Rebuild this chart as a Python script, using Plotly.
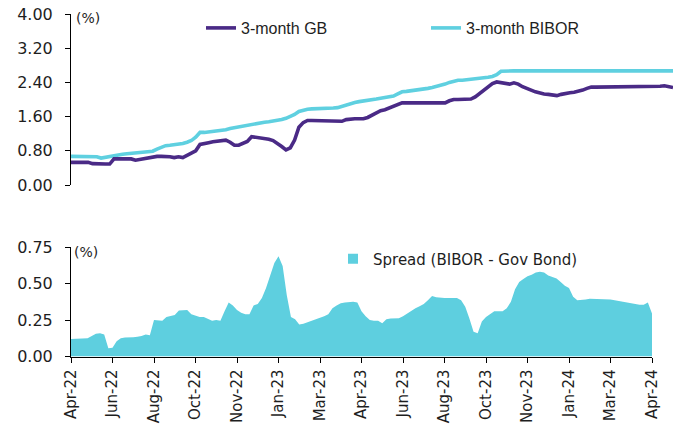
import plotly.graph_objects as go

# ---------------- data ----------------
tick_labels = ["Apr-22", "Jun-22", "Aug-22", "Oct-22", "Nov-22", "Jan-23", "Mar-23",
               "Apr-23", "Jun-23", "Aug-23", "Oct-23", "Nov-23", "Jan-24", "Mar-24", "Apr-24"]
points_per_tick = 10

gb_3m = [
    0.53, 0.53, 0.53, 0.53, 0.53, 0.50, 0.49, 0.49, 0.49, 0.49,
    0.61, 0.61, 0.61, 0.61, 0.61, 0.58, 0.60, 0.62, 0.63, 0.66,
    0.67, 0.67, 0.67, 0.66, 0.64, 0.66, 0.64, 0.69, 0.74, 0.80,
    0.95, 0.98, 0.99, 1.01, 1.03, 1.04, 1.05, 1.00, 0.93, 0.93,
    0.98, 1.02, 1.13, 1.12, 1.11, 1.09, 1.07, 1.04, 0.98, 0.90,
    0.82, 0.87, 1.05, 1.35, 1.46, 1.51, 1.51, 1.51, 1.51, 1.51,
    1.51, 1.51, 1.51, 1.49, 1.53, 1.55, 1.55, 1.55, 1.55, 1.58,
    1.64, 1.69, 1.74, 1.76, 1.80, 1.84, 1.90, 1.92, 1.92, 1.92,
    1.92, 1.92, 1.92, 1.92, 1.92, 1.92, 1.92, 1.92, 1.97, 2.00,
    2.00, 2.00, 2.00, 2.01, 2.06, 2.14, 2.22, 2.31, 2.37, 2.41,
    2.40, 2.37, 2.36, 2.39, 2.36, 2.30, 2.27, 2.22, 2.18, 2.15,
    2.13, 2.12, 2.10, 2.09, 2.12, 2.15, 2.16, 2.17, 2.19, 2.22,
    2.26, 2.29, 2.29, 2.29, 2.29, 2.29, 2.29, 2.29, 2.29, 2.29,
    2.29, 2.29, 2.29, 2.29, 2.31, 2.31, 2.31, 2.31, 2.32, 2.31,
    2.28,
]

bibor_3m = [
    0.67, 0.67, 0.67, 0.67, 0.67, 0.67, 0.66, 0.63, 0.65, 0.68,
    0.70, 0.71, 0.72, 0.73, 0.74, 0.75, 0.75, 0.76, 0.77, 0.79,
    0.84, 0.89, 0.92, 0.93, 0.94, 0.96, 0.97, 1.00, 1.04, 1.12,
    1.23, 1.23, 1.24, 1.24, 1.25, 1.26, 1.29, 1.32, 1.34, 1.36,
    1.39, 1.41, 1.43, 1.45, 1.46, 1.47, 1.48, 1.49, 1.51, 1.53,
    1.56, 1.60, 1.65, 1.72, 1.75, 1.77, 1.78, 1.78, 1.79, 1.79,
    1.80, 1.80, 1.81, 1.84, 1.89, 1.91, 1.93, 1.95, 1.96, 1.97,
    1.99, 2.01, 2.03, 2.05, 2.06, 2.08, 2.13, 2.18, 2.19, 2.20,
    2.22, 2.23, 2.25, 2.26, 2.28, 2.30, 2.32, 2.36, 2.40, 2.43,
    2.45, 2.45, 2.46, 2.47, 2.48, 2.49, 2.50, 2.52, 2.54, 2.58,
    2.66, 2.67, 2.67, 2.67, 2.67, 2.67, 2.67, 2.67, 2.67, 2.67,
    2.67, 2.67, 2.67, 2.67, 2.67, 2.67, 2.67, 2.67, 2.67, 2.67,
    2.67, 2.67, 2.67, 2.67, 2.67, 2.67, 2.67, 2.67, 2.67, 2.67,
    2.67, 2.67, 2.67, 2.67, 2.67, 2.67, 2.67, 2.67, 2.67, 2.67,
    2.67,
]

spread = [
    0.120, 0.120, 0.120, 0.120, 0.125, 0.140, 0.155, 0.160, 0.150, 0.057,
    0.060, 0.105, 0.125, 0.130, 0.130, 0.132, 0.136, 0.140, 0.150, 0.145,
    0.250, 0.245, 0.245, 0.270, 0.275, 0.284, 0.315, 0.318, 0.318, 0.290,
    0.280, 0.270, 0.270, 0.255, 0.245, 0.250, 0.245, 0.310, 0.370, 0.350,
    0.318, 0.300, 0.290, 0.290, 0.350, 0.360, 0.400, 0.470, 0.550, 0.640,
    0.686, 0.620, 0.420, 0.270, 0.255, 0.220, 0.225, 0.235, 0.240, 0.250,
    0.260, 0.275, 0.290, 0.330, 0.350, 0.365, 0.370, 0.372, 0.375, 0.370,
    0.310, 0.275, 0.250, 0.245, 0.245, 0.227, 0.255, 0.260, 0.260, 0.262,
    0.275, 0.295, 0.315, 0.330, 0.345, 0.360, 0.385, 0.415, 0.405, 0.400,
    0.400, 0.400, 0.400, 0.400, 0.385, 0.340, 0.260, 0.170, 0.160, 0.240,
    0.270, 0.290, 0.310, 0.310, 0.310, 0.330, 0.375, 0.460, 0.510, 0.530,
    0.550, 0.560, 0.575, 0.580, 0.575, 0.555, 0.545, 0.535, 0.510, 0.485,
    0.470, 0.410, 0.385, 0.385, 0.390, 0.395, 0.395, 0.390, 0.390, 0.390,
    0.390, 0.385, 0.380, 0.375, 0.365, 0.360, 0.355, 0.355, 0.355, 0.370,
    0.295,
]

# ---------------- styling ----------------
W, H = 685, 425
PURPLE = "#4a2a86"
CYAN_LINE = "#5fd0e0"
CYAN_FILL = "#5ecfdf"
TXT = "#1e1e1e"
YTICK_FONT = dict(family="DejaVu Sans", size=16, color=TXT)
XTICK_FONT = dict(family="DejaVu Sans", size=15, color=TXT)

x = list(range(len(gb_3m)))
tickvals = list(range(0, len(x), points_per_tick))


def px_x(p):
    return p / W


def px_y(p):
    return 1 - p / H


fig = go.Figure()
fig.add_trace(go.Scatter(x=x, y=bibor_3m, mode="lines", name="3-month BIBOR",
                         line=dict(color=CYAN_LINE, width=3.6),
                         xaxis="x", yaxis="y", legend="legend2"))
fig.add_trace(go.Scatter(x=x, y=gb_3m, mode="lines", name="3-month GB",
                         line=dict(color=PURPLE, width=3.6),
                         xaxis="x", yaxis="y", legend="legend"))
fig.add_trace(go.Scatter(x=x, y=spread, mode="lines", fill="tozeroy",
                         line=dict(width=0, color=CYAN_FILL), fillcolor=CYAN_FILL,
                         name="Spread (BIBOR - Gov Bond)", showlegend=False,
                         xaxis="x2", yaxis="y2"))
fig.add_trace(go.Scatter(x=[None], y=[None], mode="markers",
                         marker=dict(symbol="square", size=10, color=CYAN_FILL),
                         name="Spread (BIBOR - Gov Bond)",
                         xaxis="x2", yaxis="y2", legend="legend3"))

axis_common = dict(showgrid=False, zeroline=False, showline=True, linecolor="black",
                   linewidth=1, ticks="outside", ticklen=5, tickcolor="black",
                   automargin=False)

fig.update_layout(
    width=W, height=H,
    margin=dict(l=0, r=0, t=0, b=0, pad=0),
    paper_bgcolor="white", plot_bgcolor="white",
    xaxis=dict(domain=[px_x(71), px_x(673)], range=[0, len(x) - 1], visible=False,
               anchor="y", automargin=False),
    yaxis=dict(domain=[px_y(185), px_y(14)], range=[0, 4], tickvals=[0, 0.8, 1.6, 2.4, 3.2, 4.0],
               tickformat=".2f", anchor="x", ticklabelstandoff=9, tickfont=YTICK_FONT,
               **axis_common),
    xaxis2=dict(domain=[px_x(71), px_x(652)], range=[0, len(x) - 1], tickvals=tickvals,
                ticktext=tick_labels, tickangle=-90, anchor="y2", ticklabelstandoff=1,
                tickfont=XTICK_FONT, **axis_common),
    yaxis2=dict(domain=[px_y(356.5), px_y(247)], range=[0, 0.75], tickvals=[0, 0.25, 0.5, 0.75],
                tickformat=".2f", anchor="x2", ticklabelstandoff=9, tickfont=YTICK_FONT,
                **axis_common),
    legend=dict(x=px_x(201), y=px_y(28), xanchor="left", yanchor="middle",
                orientation="h", bgcolor="rgba(0,0,0,0)",
                font=dict(family="Liberation Sans", size=16, color=TXT)),
    legend2=dict(x=px_x(426), y=px_y(28), xanchor="left", yanchor="middle",
                 orientation="h", bgcolor="rgba(0,0,0,0)",
                 font=dict(family="Liberation Sans", size=16, color=TXT)),
    legend3=dict(x=px_x(333), y=px_y(259), xanchor="left", yanchor="middle",
                 orientation="h", bgcolor="rgba(0,0,0,0)",
                 font=dict(family="DejaVu Sans", size=15, color=TXT)),
    annotations=[
        dict(text="(%)", xref="paper", yref="paper", x=px_x(74), y=px_y(18),
             xanchor="left", yanchor="middle", showarrow=False,
             font=dict(family="DejaVu Sans", size=14, color=TXT)),
        dict(text="(%)", xref="paper", yref="paper", x=px_x(72), y=px_y(252),
             xanchor="left", yanchor="middle", showarrow=False,
             font=dict(family="DejaVu Sans", size=14, color=TXT)),
    ],
)

fig.write_html("out.html",
               config={"displayModeBar": False},
               post_script="document.body.style.margin='0';document.body.style.padding='0';")
